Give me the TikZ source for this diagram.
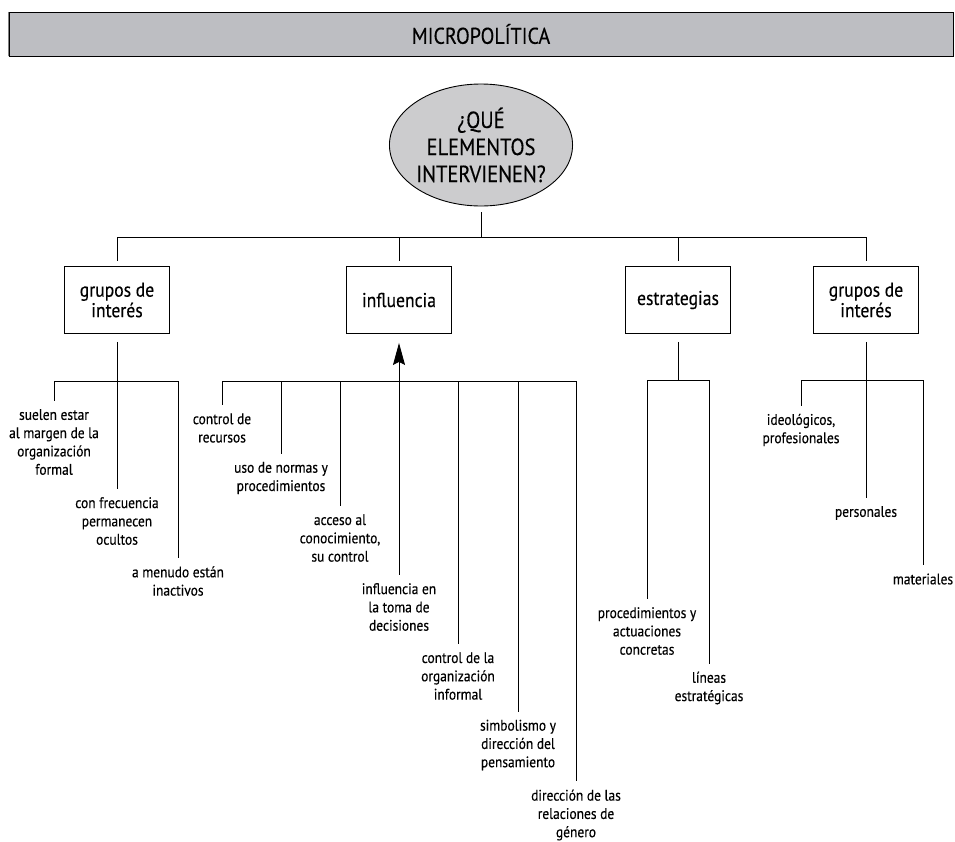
\documentclass[tikz,border=0pt]{standalone}
\usepackage{fontspec}
\setmainfont[FakeStretch=0.88,FakeBold=0.3]{PT Sans}
\usetikzlibrary{arrows.meta,shapes.geometric}
\definecolor{bannergray}{RGB}{189,190,194}
\definecolor{ellgray}{RGB}{204,204,206}
\begin{document}
\begin{tikzpicture}[x=1pt,y=-1pt,
  conn/.style={line width=0.9pt},
  banner/.style={draw, line width=0.9pt, fill=bannergray, minimum width=944pt, minimum height=44pt, inner sep=0pt, font=\fontsize{22.8}{25}\selectfont},
  ell/.style={draw, ellipse, line width=0.9pt, fill=ellgray, minimum width=162pt, minimum height=122pt, inner sep=0pt, align=center, font=\fontsize{23.3}{27}\selectfont},
  box/.style={draw, line width=0.9pt, minimum width=105pt, minimum height=67pt, inner sep=2pt, align=center, font=\fontsize{20}{20.5}\selectfont},
  lab/.style={align=center, inner sep=0pt, font=\fontsize{15.3}{18.3}\selectfont},
  tolab/.style={conn, shorten >=8pt},
  tobox/.style={conn, shorten >=5pt},
  frombox/.style={conn, shorten <=8pt}
]
\useasboundingbox (0,0) rectangle (955,841);

% banner
\node[banner] (title) at (481,34) {MICROPOLÍTICA};
\draw[line width=1.8pt] (title.south west) -- (title.south east) -- (title.north east);
\draw[line width=1.6pt, gray] (title.north west) -- (title.south west);

% central ellipse
\node[ell] (E) at (481,145) {¿QUÉ\\ELEMENTOS\\INTERVIENEN?};

% first-level boxes
\node[box] (b1) at (117,300) {grupos de\\interés};
\node[box] (b2) at (399,300) {influencia};
\node[box] (b3) at (678,300) {estrategias};
\node[box] (b4) at (866,300) {grupos de\\interés};

\coordinate (j0) at (481,237);
\draw[conn, shorten <=6pt] (E.south) -- (E.south |- j0);
\draw[conn] (b1.north |- j0) -- (b4.north |- j0);
\foreach \b in {b1,b2,b3,b4}
  \draw[tobox] (\b.north |- j0) -- (\b.north);

% ---- group 1
\coordinate (g1) at (0,381);
\node[lab] (l1a) at (54,442) {suelen estar\\al margen de la\\organización\\formal};
\node[lab] (l1b) at (117,521) {con frecuencia\\permanecen\\ocultos};
\node[lab] (l1c) at (178,581) {a menudo están\\inactivos};
\draw[conn] (l1a.north |- g1) -- (l1c.north |- g1);
\draw[conn, shorten <=8pt, shorten >=8pt] (b1.south) -- (l1b.north);
\draw[tolab] (l1a.north |- g1) -- (l1a.north);
\draw[tolab] (l1c.north |- g1) -- (l1c.north);

% ---- group 2
\coordinate (g2) at (0,381);
\node[lab] (l2a) at (222,428) {control de\\recursos};
\node[lab] (l2b) at (281,478) {uso de normas y\\procedimientos};
\node[lab] (l2c) at (340,538) {acceso al\\conocimiento,\\su control};
\node[lab] (l2d) at (399,607) {influencia en\\la toma de\\decisiones};
\node[lab] (l2e) at (458,676) {control de la\\organización\\informal};
\node[lab] (l2f) at (518,745) {simbolismo y\\dirección del\\pensamiento};
\node[lab] (l2g) at (576,815) {dirección de las\\relaciones de\\género};
\draw[conn] (l2a.north |- g2) -- (l2g.north |- g2);
\foreach \l in {l2a,l2b,l2c,l2e,l2f,l2g}
  \draw[tolab] (\l.north |- g2) -- (\l.north);
\draw[conn, shorten <=8pt, shorten >=9pt, -{Stealth[length=22pt,width=12pt,inset=3pt]}] (l2d.north) -- (b2.south);

% ---- group 3
\coordinate (g3) at (0,380);
\node[lab] (l3a) at (647,631) {procedimientos y\\actuaciones\\concretas};
\node[lab] (l3b) at (709,688) {líneas\\estratégicas};
\draw[frombox] (b3.south) -- (b3.south |- g3);
\draw[conn] (l3a.north |- g3) -- (l3b.north |- g3);
\draw[tolab] (l3a.north |- g3) -- (l3a.north);
\draw[tolab] (l3b.north |- g3) -- (l3b.north);

% ---- group 4
\coordinate (g4) at (0,380);
\node[lab] (l4a) at (801,430) {ideológicos,\\profesionales};
\node[lab] (l4b) at (866,513) {personales};
\node[lab] (l4c) at (923,579) {materiales};
\draw[conn] (l4a.north |- g4) -- (l4c.north |- g4);
\draw[conn, shorten <=8pt, shorten >=8pt] (b4.south) -- (l4b.north);
\draw[tolab] (l4a.north |- g4) -- (l4a.north);
\draw[tolab] (l4c.north |- g4) -- (l4c.north);
\end{tikzpicture}
\end{document}
